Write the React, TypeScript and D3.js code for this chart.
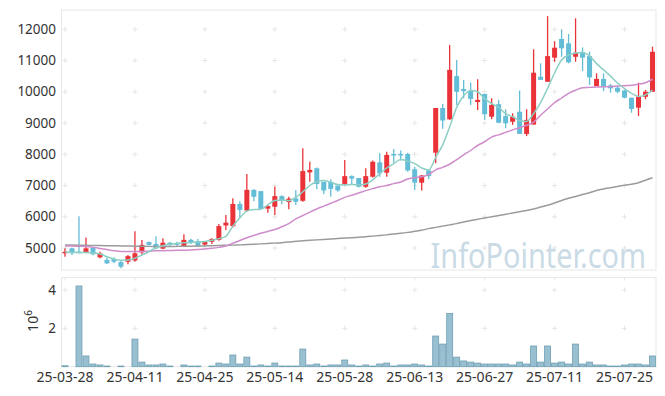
import React, { useEffect, useRef } from 'react';
import * as d3 from 'd3';

// trading days shown on the chart
const dates = [
  '25-03-28', '25-03-31', '25-04-01', '25-04-02', '25-04-03', '25-04-04', '25-04-07', '25-04-08', '25-04-09', '25-04-10',
  '25-04-11', '25-04-14', '25-04-15', '25-04-16', '25-04-17', '25-04-18', '25-04-21', '25-04-22', '25-04-23', '25-04-24',
  '25-04-25', '25-04-28', '25-04-29', '25-04-30', '25-05-02', '25-05-07', '25-05-08', '25-05-09', '25-05-12', '25-05-13',
  '25-05-14', '25-05-15', '25-05-16', '25-05-19', '25-05-20', '25-05-21', '25-05-22', '25-05-23', '25-05-26', '25-05-27',
  '25-05-28', '25-05-29', '25-05-30', '25-06-02', '25-06-04', '25-06-05', '25-06-09', '25-06-10', '25-06-11', '25-06-12',
  '25-06-13', '25-06-16', '25-06-17', '25-06-18', '25-06-19', '25-06-20', '25-06-23', '25-06-24', '25-06-25', '25-06-26',
  '25-06-27', '25-06-30', '25-07-01', '25-07-02', '25-07-03', '25-07-04', '25-07-07', '25-07-08', '25-07-09', '25-07-10',
  '25-07-11', '25-07-14', '25-07-15', '25-07-16', '25-07-17', '25-07-18', '25-07-21', '25-07-22', '25-07-23', '25-07-24',
  '25-07-25', '25-07-28', '25-07-29', '25-07-30', '25-07-31',
];

const opens = [
  4830, 4990, 4880, 4850, 5010, 4700, 4620, 4650, 4550, 4560,
  4600, 4860, 5190, 5130, 4980, 5170, 5150, 5060, 5260, 5220,
  5110, 5200, 5260, 5720, 5700, 6410, 6200, 6860, 6820, 6260,
  6320, 6660, 6470, 6590, 6510, 7420, 7550, 7120, 7120, 7000,
  7050, 7300, 7240, 6960, 7280, 7740, 7410, 8010, 8010, 8010,
  7520, 7090, 7480, 8050, 9480, 9120, 10500, 10090, 10020, 9670,
  9930, 9200, 9600, 9220, 9040, 9360, 8650, 8950, 10480, 10320,
  11090, 11690, 11550, 11120, 11260, 11140, 10180, 10410, 10200, 10130,
  10040, 9810, 9490, 9840, 10000,
];
const highs = [
  4990, 5010, 6020, 5340, 5040, 4880, 4700, 4700, 4620, 4780,
  5540, 5260, 5210, 5380, 5310, 5190, 5200, 5440, 5300, 5290,
  5210, 5310, 5770, 6060, 6590, 6500, 7370, 6880, 6820, 6380,
  6970, 6690, 6640, 6860, 8190, 7760, 7580, 7120, 7200, 7000,
  7820, 7330, 7240, 7550, 7800, 8030, 8080, 8170, 8120, 8050,
  7600, 7340, 7500, 9480, 9610, 11500, 11020, 10380, 10300, 10400,
  9930, 9790, 9740, 9440, 9310, 10040, 9440, 11360, 10910, 12420,
  11620, 12000, 11850, 12350, 11420, 11280, 10590, 10590, 10250, 10210,
  10060, 9810, 10290, 10060, 11440,
];
const lows = [
  4720, 4780, 4830, 4830, 4765, 4670, 4490, 4510, 4350, 4480,
  4560, 4780, 5080, 4960, 4960, 5040, 5040, 5040, 5130, 5040,
  5080, 5130, 5230, 5580, 5660, 5980, 6160, 6500, 6220, 6130,
  6060, 6400, 6240, 6380, 6480, 7120, 6880, 6730, 6640, 6800,
  7020, 7050, 6940, 6930, 7260, 7280, 7280, 7730, 7800, 7440,
  6860, 6840, 7200, 7710, 8820, 9100, 9580, 9790, 9580, 9420,
  9100, 9120, 8990, 8830, 8940, 8650, 8580, 8950, 10380, 10320,
  10960, 11120, 10910, 10960, 10660, 10220, 10180, 10020, 9970, 9950,
  9790, 9330, 9220, 9760, 10000,
];
const closes = [
  4880, 4830, 4850, 4990, 4800, 4830, 4510, 4560, 4400, 4740,
  4830, 5100, 5100, 4990, 5170, 5100, 5120, 5260, 5190, 5060,
  5190, 5290, 5700, 5810, 6410, 6220, 6860, 6640, 6250, 6340,
  6660, 6520, 6580, 6480, 7460, 7500, 7050, 6840, 6890, 6840,
  7300, 7220, 6960, 7300, 7760, 7390, 7980, 7960, 7960, 7480,
  7090, 7320, 7300, 9480, 9080, 10700, 10000, 10020, 9770, 9740,
  9280, 9580, 9010, 8990, 9200, 8650, 9100, 10610, 10380, 11140,
  11410, 11390, 10940, 11250, 11090, 10460, 10410, 10180, 10110, 10000,
  9810, 9450, 9840, 10000, 11280,
];

// volume, in millions of shares
const volumes = [
  0.05, 0, 4.21, 0.56, 0.14, 0.09, 0.035, 0, 0.035, 0,
  1.44, 0.24, 0.09, 0.09, 0.14, 0.035, 0, 0.09, 0.035, 0.035,
  0, 0.035, 0.19, 0.14, 0.61, 0.14, 0.5, 0.035, 0.09, 0.035,
  0.19, 0.035, 0.035, 0.035, 0.92, 0.09, 0.14, 0.035, 0.09, 0.09,
  0.35, 0.09, 0.035, 0.09, 0.035, 0.14, 0.19, 0.035, 0.09, 0.09,
  0.14, 0.09, 0.035, 1.6, 1.18, 2.78, 0.5, 0.3, 0.24, 0.19,
  0.14, 0.14, 0.14, 0.14, 0.09, 0.24, 0.14, 1.08, 0.24, 1.08,
  0.19, 0.24, 0.14, 1.18, 0.14, 0.24, 0.09, 0.09, 0.035, 0.035,
  0.09, 0.14, 0.14, 0.09, 0.56,
];

// moving averages as drawn
const ma5 = [
  4870, 4865, 4860, 4860, 4850, 4810, 4720, 4650, 4610, 4615,
  4670, 4775, 4880, 5010, 5075, 5117, 5145, 5165, 5175, 5190,
  5210, 5250, 5300, 5370, 5700, 5960, 6180, 6230, 6240, 6380,
  6520, 6540, 6510, 6620, 6800, 7000, 7120, 7160, 7100, 7030,
  7020, 7030, 7020, 7050, 7180, 7380, 7560, 7700, 7830, 7780,
  7700, 7560, 7500, 7900, 8300, 8880, 9500, 9870, 10040, 10000,
  9780, 9620, 9500, 9300, 9200, 9080, 9050, 9300, 9650, 10110,
  10600, 11016, 11180, 11240, 11260, 11150, 10900, 10700, 10500, 10280,
  10100, 9950, 9850, 9900, 10050,
];
const ma20 = [
  5064, 5064, 5055, 5045, 5020, 4985, 4950, 4915, 4890, 4885,
  4885, 4890, 4900, 4910, 4915, 4922, 4925, 4930, 4936, 4950,
  4968, 4990, 5020, 5064, 5150, 5240, 5330, 5400, 5470, 5530,
  5590, 5680, 5780, 5930, 6040, 6150, 6250, 6340, 6430, 6520,
  6620, 6690, 6760, 6835, 6900, 6960, 7000, 7060, 7110, 7210,
  7250, 7280, 7350, 7500, 7580, 7680, 7830, 7980, 8120, 8280,
  8400, 8550, 8620, 8700, 8780, 8850, 8930, 9030, 9250, 9450,
  9650, 9800, 9950, 10050, 10130, 10140, 10150, 10160, 10165, 10180,
  10195, 10210, 10240, 10290, 10400,
];
const ma60 = [
  5096, 5094, 5090, 5086, 5082, 5078, 5074, 5070, 5066, 5062,
  5058, 5055, 5052, 5050, 5050, 5050, 5052, 5055, 5058, 5062,
  5066, 5072, 5078, 5085, 5092, 5100, 5110, 5120, 5132, 5144,
  5156, 5170, 5190, 5215, 5230, 5245, 5260, 5275, 5290, 5305,
  5318, 5330, 5345, 5360, 5380, 5400, 5420, 5445, 5470, 5500,
  5535, 5570, 5620, 5660, 5700, 5740, 5780, 5830, 5880, 5920,
  5960, 6000, 6040, 6080, 6120, 6160, 6200, 6250, 6310, 6370,
  6440, 6520, 6590, 6650, 6710, 6770, 6840, 6890, 6930, 6970,
  7010, 7040, 7090, 7170, 7250,
];

const priceTicks = [5000, 6000, 7000, 8000, 9000, 10000, 11000, 12000];
const volumeTicks = [2, 4];
const dateTicks = ['25-03-28', '25-04-11', '25-04-25', '25-05-14', '25-05-28', '25-06-13', '25-06-27', '25-07-11', '25-07-25'];

const App = () => {
  const svgRef = useRef(null);

  useEffect(() => {
    const left = 61.5;
    const right = 656;
    const priceTop = 10;
    const priceBottom = 270;
    const volTop = 277.5;
    const volBottom = 366.7;
    const font = '"Noto Sans", "Open Sans", sans-serif';

    const svg = d3.select(svgRef.current);
    svg.selectAll('*').remove();

    const x = d3.scaleBand().domain(dates).range([left, right]).padding(0);
    const cx = (i) => x(dates[i]) + x.bandwidth() / 2;
    const y = d3.scaleLinear().domain([4296, 12616]).range([priceBottom, priceTop]);
    const yv = d3.scaleLinear().domain([0, 4.653]).range([volBottom, volTop]);

    // panel frames
    [[priceTop, priceBottom], [volTop, volBottom]].forEach(([t, b]) => {
      svg.append('rect')
        .attr('x', left).attr('y', t)
        .attr('width', right - left).attr('height', b - t)
        .attr('fill', 'none').attr('stroke', '#e8e8e8').attr('stroke-width', 1);
    });

    // grid crosses
    const cross = (g, px, py) => {
      g.append('path')
        .attr('d', `M${px - 2.5},${py}H${px + 2.5}M${px},${py - 2.5}V${py + 2.5}`)
        .attr('stroke', '#e6e6e6').attr('stroke-width', 1);
    };
    const grid = svg.append('g');
    dateTicks.forEach(d => {
      const px = x(d) + x.bandwidth() / 2;
      priceTicks.forEach(v => cross(grid, px, y(v)));
      volumeTicks.forEach(v => cross(grid, px, yv(v)));
      grid.append('path')
        .attr('d', `M${px},${volTop}V${volTop + 3}`)
        .attr('stroke', '#e6e6e6');
    });

    // watermark, squeezed to the width it has in the source
    svg.append('text')
      .attr('transform', 'translate(430.5,267.5) scale(0.85,1)')
      .attr('font-family', font).attr('font-size', 34)
      .attr('fill', '#cadbe6')
      .text('InfoPointer.com');

    // candles
    const upColor = '#ea3339';
    const downColor = '#64bdd7';
    const candles = svg.append('g');
    dates.forEach((d, i) => {
      const up = closes[i] >= opens[i];
      const color = up ? upColor : downColor;
      const c = cx(i);
      candles.append('line')
        .attr('x1', c).attr('x2', c)
        .attr('y1', y(highs[i])).attr('y2', y(lows[i]))
        .attr('stroke', color).attr('stroke-width', 1.3);
      const top = y(Math.max(opens[i], closes[i]));
      const bottom = y(Math.min(opens[i], closes[i]));
      candles.append('rect')
        .attr('x', c - 2.5).attr('y', top)
        .attr('width', 5).attr('height', Math.max(1.5, bottom - top))
        .attr('fill', color);
    });

    // moving averages
    const line = d3.line().x((_, i) => cx(i)).y(v => y(v)).curve(d3.curveMonotoneX);
    [[ma60, '#9b9b9b'], [ma20, '#cf8ccb'], [ma5, '#8dcfc4']].forEach(([vals, color]) => {
      svg.append('path')
        .datum(vals)
        .attr('fill', 'none')
        .attr('stroke', color)
        .attr('stroke-width', 1.5)
        .attr('d', line);
    });

    // volume bars
    svg.append('g').selectAll('rect')
      .data(volumes)
      .join('rect')
      .attr('x', (_, i) => x(dates[i]) + 0.5)
      .attr('y', v => yv(v))
      .attr('width', x.bandwidth() - 1)
      .attr('height', v => volBottom - yv(v))
      .attr('fill', '#98c0d0')
      .attr('stroke', '#6f9fb4')
      .attr('stroke-width', v => (v > 0 ? 0.8 : 0));

    // left axis labels
    const labels = svg.append('g')
      .attr('font-family', font)
      .attr('fill', '#333');
    priceTicks.forEach(v => {
      labels.append('text')
        .attr('x', 56).attr('y', y(v))
        .attr('dy', '0.35em')
        .attr('text-anchor', 'end')
        .attr('font-size', 13.5)
        .text(v);
    });
    volumeTicks.forEach(v => {
      labels.append('text')
        .attr('x', 56).attr('y', yv(v))
        .attr('dy', '0.35em')
        .attr('text-anchor', 'end')
        .attr('font-size', 13.5)
        .text(v);
    });
    const unit = labels.append('text')
      .attr('transform', 'translate(37.5,321) rotate(-90)')
      .attr('text-anchor', 'middle')
      .attr('font-size', 14);
    unit.append('tspan').text('10');
    unit.append('tspan').attr('dy', -6).attr('font-size', 10).text('6');

    // date labels
    dateTicks.forEach(d => {
      labels.append('text')
        .attr('x', x(d) + x.bandwidth() / 2).attr('y', 381.5)
        .attr('text-anchor', 'middle')
        .attr('font-size', 14)
        .text(d);
    });
  }, []);

  return (
    <svg
      ref={svgRef}
      width={665}
      height={396}
      style={{ position: 'absolute', left: 0, top: 0, display: 'block', background: '#fff' }}
    />
  );
};

export default App;
